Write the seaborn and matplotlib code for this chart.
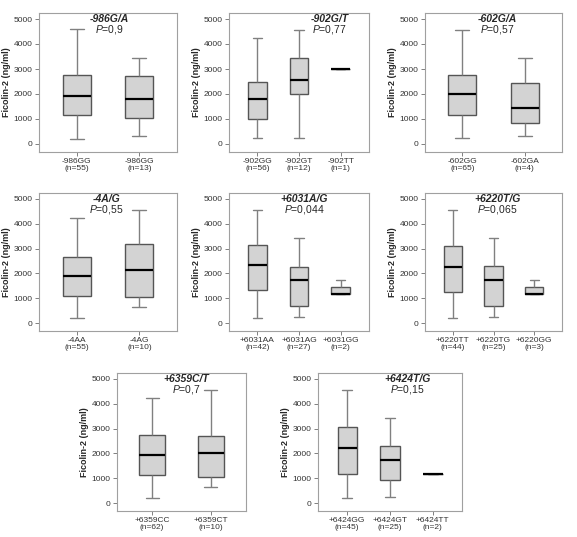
import numpy as np
import pandas as pd
import matplotlib
matplotlib.use("Agg")
import matplotlib.pyplot as plt
import seaborn as sns

# five-number summaries: min, q1, median, q3, max
snp_names = ["-986G/A", "-902G/T", "-602G/A", "-4A/G", "+6031A/G", "+6220T/G", "+6359C/T", "+6424T/G"]
p_values = ["0,9", "0,77", "0,57", "0,55", "0,044", "0,065", "0,7", "0,15"]

genotypes = [
    ["-986GG", "-986GG"],
    ["-902GG", "-902GT", "-902TT"],
    ["-602GG", "-602GA"],
    ["-4AA", "-4AG"],
    ["+6031AA", "+6031AG", "+6031GG"],
    ["+6220TT", "+6220TG", "+6220GG"],
    ["+6359CC", "+6359CT"],
    ["+6424GG", "+6424GT", "+6424TT"],
]
counts = [
    [55, 13],
    [56, 12, 1],
    [65, 4],
    [55, 10],
    [42, 27, 2],
    [44, 25, 3],
    [62, 10],
    [45, 25, 2],
]
summaries = [
    [[200, 1160, 1930, 2750, 4580], [300, 1020, 1800, 2720, 3420]],
    [[220, 1010, 1800, 2480, 4250], [220, 2000, 2570, 3430, 4570], [3000]],
    [[220, 1150, 2000, 2750, 4570], [300, 830, 1430, 2450, 3420]],
    [[220, 1080, 1900, 2680, 4250], [640, 1030, 2130, 3180, 4570]],
    [[220, 1340, 2320, 3130, 4570], [250, 680, 1730, 2270, 3420], [1170, 1170, 1190, 1470, 1750]],
    [[220, 1270, 2260, 3090, 4570], [260, 680, 1730, 2310, 3420], [1170, 1170, 1190, 1470, 1750]],
    [[220, 1150, 1920, 2750, 4250], [640, 1030, 2010, 2720, 4570]],
    [[220, 1170, 2210, 3060, 4570], [260, 920, 1740, 2290, 3420], [1170, 1170]],
]

# axes rectangles in pixels (left, top, right, bottom) and title x position
W, H = 577, 537
boxes_px = [
    (39, 13, 177, 152), (229, 13, 369, 152), (425, 13, 562, 152),
    (39, 193, 177, 331), (229, 193, 369, 331), (425, 193, 562, 331),
    (117, 373, 246, 511), (318, 373, 462, 511),
]
title_x = [0.51, 0.72, 0.53, 0.49, 0.54, 0.53, 0.54, 0.62]

sns.set_theme(style="white")
plt.rcParams["font.family"] = ["Liberation Sans", "DejaVu Sans"]
plt.rcParams["mathtext.fontset"] = "custom"
plt.rcParams["mathtext.it"] = "Liberation Sans:italic"
plt.rcParams["mathtext.rm"] = "Liberation Sans"

fig = plt.figure(figsize=(W / 100, H / 100), dpi=100)

for i in range(8):
    l, t, r, b = boxes_px[i]
    ax = fig.add_axes([l / W, 1 - b / H, (r - l) / W, (b - t) / H])
    labels = [f"{g}\n(n={n})" for g, n in zip(genotypes[i], counts[i])]
    rows = []
    for k, vals in enumerate(summaries[i]):
        for v in vals:
            rows.append({"group": k, "value": v})
    df = pd.DataFrame(rows)
    sns.boxplot(data=df, x="group", y="value", ax=ax, color="#d3d3d3",
                linecolor="#555555", linewidth=1.0, width=0.45, whis=(0, 100),
                medianprops={"color": "black", "linewidth": 1.6},
                whiskerprops={"color": "#808080"}, capprops={"color": "#808080"})
    n = len(labels)
    pad = 0.6 if n == 2 else 0.68
    ax.set_xlim(-pad, n - 1 + pad)
    ax.set_ylim(-320, 5240)
    ax.set_yticks([0, 1000, 2000, 3000, 4000, 5000])
    ax.set_xticks(range(n))
    ax.set_xticklabels(labels, fontsize=6, color="#333333", linespacing=1.0)
    ax.tick_params(axis="y", labelsize=6, labelcolor="#333333")
    ax.tick_params(axis="both", length=3, width=0.7, color="#808080", left=True, bottom=True, pad=1.5)
    ax.set_xlabel("")
    ax.set_ylabel("Ficolin-2 (ng/ml)", fontsize=6.5, fontweight="bold", labelpad=2)
    for sp in ax.spines.values():
        sp.set_color("#a0a0a0")
        sp.set_linewidth(0.8)
    ax.text(title_x[i], 0.96, snp_names[i], transform=ax.transAxes, ha="center", va="center",
            fontsize=7.5, fontweight="bold", style="italic")
    ax.text(title_x[i], 0.881, r"$\it{P}$=" + p_values[i], transform=ax.transAxes, ha="center",
            va="center", fontsize=7.5)

fig.savefig("out.png", dpi=100)
